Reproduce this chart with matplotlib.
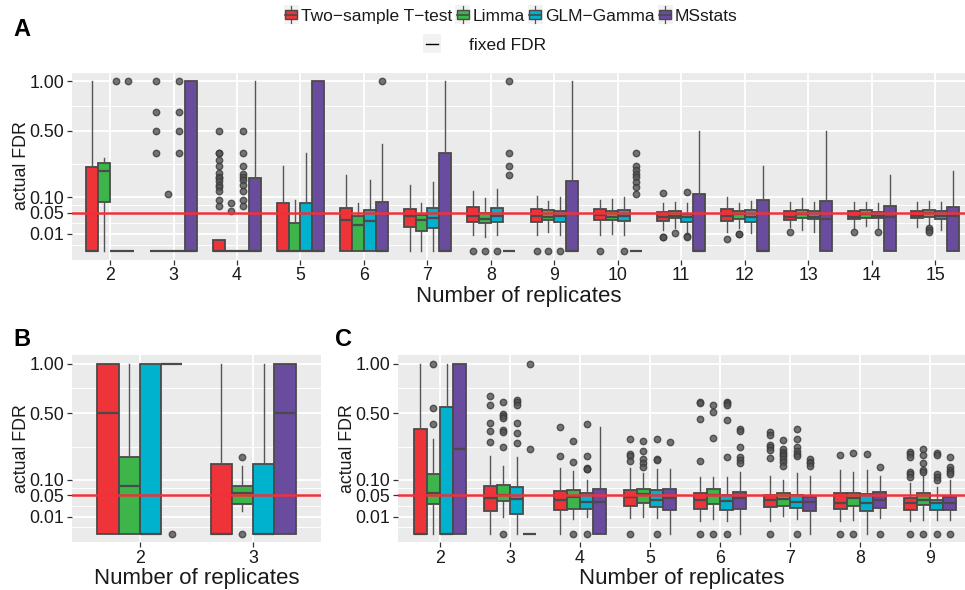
import numpy as np
import matplotlib
matplotlib.use("Agg")
import matplotlib.pyplot as plt
from matplotlib.patches import Patch, Rectangle
from matplotlib.lines import Line2D
from matplotlib.legend_handler import HandlerBase

plt.rcParams['font.family'] = ['Liberation Sans', 'DejaVu Sans']

METHODS = ["Two\u2212sample T\u2212test", "Limma", "GLM\u2212Gamma", "MSstats"]
COLORS = ["#EE3339", "#3DB54A", "#00B2CD", "#6A4C9E"]
FIXED_FDR = 0.05
YTICKS = [0.01, 0.05, 0.10, 0.50, 1.00]
YTICKLABELS = ["0.01", "0.05", "0.10", "0.50", "1.00"]

# ---------------- Panel A: replicates 2..15 ----------------
A_groups = list(range(2, 16))
# (whisker low, Q1, median, Q3, whisker high)
A_red = [(0, 0, 0, 0.246, 1.0), (0, 0, 0, 0, 0), (0, 0, 0, 0.0045, 0.0045),
         (0, 0, 0, 0.081, 0.25), (0, 0, 0.034, 0.065, 0.198),
         (0, 0.0205, 0.0424, 0.060, 0.151), (0.0092, 0.0285, 0.0432, 0.066, 0.126),
         (0.0085, 0.0298, 0.0432, 0.062, 0.105), (0.0092, 0.0333, 0.044, 0.060, 0.089),
         (0.0153, 0.0318, 0.0392, 0.0517, 0.0786), (0.0129, 0.0318, 0.0432, 0.061, 0.101),
         (0.0205, 0.034, 0.0408, 0.0563, 0.082), (0.0188, 0.0362, 0.0408, 0.0544, 0.083),
         (0.0205, 0.0369, 0.0416, 0.0554, 0.082)]
A_green = [(0, 0.082, 0.223, 0.27, 0.30), (0, 0, 0, 0, 0), (0, 0, 0, 0, 0),
           (0, 0, 0, 0.0265, 0.09), (0, 0, 0.0234, 0.0432, 0.081),
           (0, 0.0143, 0.0333, 0.0457, 0.0786), (0.0071, 0.0278, 0.0354, 0.049, 0.096),
           (0.012, 0.0332, 0.0408, 0.057, 0.0865), (0.0104, 0.0333, 0.0408, 0.0554, 0.0936),
           (0.0178, 0.0369, 0.0432, 0.0563, 0.082), (0.0178, 0.0354, 0.0465, 0.0563, 0.0786),
           (0.0153, 0.0377, 0.0465, 0.058, 0.097), (0.0222, 0.0384, 0.0473, 0.059, 0.082),
           (0.0228, 0.040, 0.050, 0.057, 0.0877)]
A_teal = [(0, 0, 0, 0, 0), (0, 0, 0, 0, 0), (0, 0, 0, 0, 0),
          (0, 0, 0, 0.0786, 0.332), (0, 0, 0.031, 0.059, 0.173),
          (0, 0.0188, 0.0384, 0.063, 0.165), (0.0092, 0.0285, 0.0432, 0.064, 0.133),
          (0.0092, 0.0285, 0.043, 0.056, 0.102), (0.0092, 0.031, 0.042, 0.058, 0.0998),
          (0.0129, 0.0298, 0.041, 0.0465, 0.0786), (0.0108, 0.0291, 0.0408, 0.058, 0.0877),
          (0.0129, 0.0347, 0.0408, 0.0554, 0.083), (0.0188, 0.0384, 0.0432, 0.0535, 0.081),
          (0.0157, 0.0347, 0.0432, 0.0544, 0.082)]
A_purple = [(0, 0, 0, 0, 0), (0, 0, 0, 1.0, 1.0), (0, 0, 0, 0.186, 1.0),
            (0, 0, 0, 1.0, 1.0), (0, 0, 0, 0.083, 0.396),
            (0, 0, 0, 0.335, 1.0), (0, 0, 0, 0, 0),
            (0, 0, 0, 0.168, 1.0), (0, 0, 0, 0, 0),
            (0, 0, 0, 0.111, 0.498), (0, 0, 0, 0.0912, 0.248),
            (0, 0, 0.0354, 0.0853, 0.498), (0, 0, 0.0408, 0.0711, 0.198),
            (0, 0, 0.0416, 0.067, 0.221)]
A_red_out = [[], [1.0, 0.666, 0.498, 0.335],
             [0.498, 0.335, 0.33, 0.287, 0.248, 0.21, 0.19, 0.184, 0.17, 0.151, 0.14, 0.125, 0.09, 0.071],
             [], [], [], [0], [0], [0], [0.116, 0.0071, 0.0065], [0.0053], [0.0125], [0.0129], []]
A_green_out = [[], [0.111], [0.079, 0.056], [], [], [], [0], [0], [], [0.0116],
               [0.0100, 0.0095], [], [], [0.0178, 0.015, 0.0125]]
A_teal_out = [[1.0], [1.0, 0.666, 0.498, 0.335],
              [0.498, 0.335, 0.248, 0.203, 0.19, 0.175, 0.15, 0.125, 0.09, 0.071],
              [], [], [], [0], [0], [0], [0.12, 0.0078, 0.0065], [], [], [0.0129], []]
A_purple_out = [[1.0], [], [], [], [1.0], [], [1.0, 0.335, 0.25, 0.2], [],
                [0.335, 0.25, 0.227, 0.205, 0.188, 0.166, 0.143, 0.111], [], [], [], [], []]

# ---------------- Panel B: replicates 2..3 ----------------
B_groups = [2, 3]
B_red = [(0, 0, 0.5, 1.0, 1.0), (0, 0, 0, 0.165, 1.0)]
B_green = [(0, 0, 0.0786, 0.2, 1.0), (0.0183, 0.0311, 0.0554, 0.0797, 0.16)]
B_teal = [(0, 0, 0, 1.0, 1.0), (0, 0, 0, 0.165, 1.0)]
B_purple = [(1.0, 1.0, 1.0, 1.0, 1.0), (0, 0, 0.5, 1.0, 1.0)]
B_red_out = [[], []]
B_green_out = [[], [0.2, 0]]
B_teal_out = [[], []]
B_purple_out = [[0], []]

# ---------------- Panel C: replicates 2..9 ----------------
C_groups = list(range(2, 10))
C_red = [(0, 0, 0, 0.379, 1.0), (0, 0.0178, 0.044, 0.0775, 0.21),
         (0, 0.0199, 0.0384, 0.063, 0.148), (0.0085, 0.0259, 0.0457, 0.064, 0.148),
         (0.0056, 0.0205, 0.040, 0.0572, 0.112), (0.0058, 0.0234, 0.0377, 0.0526, 0.115),
         (0.0053, 0.0216, 0.0325, 0.0554, 0.139), (0.0053, 0.0199, 0.0325, 0.0424, 0.089)]
C_green = [(0, 0.0298, 0.057, 0.122, 0.306), (0.0096, 0.0362, 0.0508, 0.0808, 0.157),
           (0.0068, 0.021, 0.0465, 0.066, 0.136), (0.0096, 0.0332, 0.0535, 0.069, 0.126),
           (0.0074, 0.0311, 0.0509, 0.069, 0.112), (0.0104, 0.0259, 0.042, 0.0563, 0.098),
           (0.0062, 0.0265, 0.0424, 0.058, 0.132), (0.0062, 0.0278, 0.0384, 0.058, 0.116)]
C_teal = [(0, 0, 0, 0.552, 1.0), (0, 0.0134, 0.0416, 0.0764, 0.203),
          (0.0096, 0.0216, 0.0347, 0.0554, 0.098), (0.0085, 0.024, 0.0384, 0.064, 0.145),
          (0.0058, 0.0199, 0.0369, 0.0526, 0.111), (0.0068, 0.0228, 0.0347, 0.0526, 0.125),
          (0, 0.0183, 0.0332, 0.0544, 0.139), (0.0062, 0.0199, 0.0325, 0.040, 0.075)]
C_purple = [(0, 0, 0.248, 1.0, 1.0), (0, 0, 0, 0, 0),
            (0, 0, 0.0333, 0.070, 0.394), (0, 0.0188, 0.044, 0.070, 0.142),
            (0, 0.021, 0.0424, 0.059, 0.13), (0, 0.0173, 0.034, 0.0465, 0.116),
            (0.0078, 0.0228, 0.0377, 0.059, 0.116), (0.0062, 0.0199, 0.0332, 0.0457, 0.098)]
C_red_out = [[], [0.653, 0.573, 0.421, 0.362, 0.291], [0.396, 0.21],
             [0.306, 0.218, 0.207, 0.184, 0], [0.60, 0.59, 0.45, 0.184, 0],
             [0.358, 0.334, 0.27, 0.258, 0.244, 0.195, 0], [0.212, 0],
             [0.23, 0.216, 0.203, 0.132, 0.122, 0.111, 0]]
C_green_out = [[1.0, 0.549, 0.416], [0.594, 0.498, 0.48, 0.46, 0.37, 0.36, 0.26, 0],
               [0.295, 0.178, 0], [0.297, 0.233, 0.191, 0.17, 0.152], [0.57, 0.515, 0.314, 0],
               [0.30, 0.25, 0.23, 0.218, 0.207, 0.19, 0.178, 0.158], [0.223, 0],
               [0.246, 0.212, 0.17, 0.14, 0.132, 0]]
C_teal_out = [[], [0.615, 0.594, 0.57, 0.426, 0.348, 0.284], [0.414, 0.21, 0.15, 0.146, 0.142, 0],
              [0.306, 0.191, 0.186, 0], [0.597, 0.585, 0.573, 0.442, 0.2, 0],
              [0.381, 0.31, 0.258, 0.235, 0.221, 0.209, 0], [0.216],
              [0.227, 0.212, 0.122, 0.111, 0.098, 0]]
C_purple_out = [[], [1.0, 0.248], [], [0.291], [0.379, 0.365, 0.26, 0.2, 0.186, 0.173],
                [0.19, 0.178, 0.17, 0.158], [0.154, 0], [0.2, 0.154, 0.141, 0.132, 0.122, 0]]


# ---------------- drawing ----------------
W, H = 965, 590
fig = plt.figure(figsize=(W / 100, H / 100), dpi=100)


def add_axes_px(left, right, top, bottom):
    return fig.add_axes([left / W, 1 - bottom / H, (right - left) / W, (bottom - top) / H])


def fwd(x):
    x = np.asarray(x, dtype=float)
    return np.sign(x) * np.sqrt(np.abs(x))


def inv(y):
    y = np.asarray(y, dtype=float)
    return np.sign(y) * y ** 2


BOXW = 0.1875
TXT = '#1a1a1a'
EDGE = '#4a4a4a'


def draw_panel(ax, groups, boxes, outs, xmax):
    ax.set_facecolor('#EBEBEB')
    for m in range(4):
        stats = []
        for gi in range(len(groups)):
            lo, q1, med, q3, hi = boxes[m][gi]
            stats.append(dict(whislo=lo, q1=q1, med=med, q3=q3, whishi=hi,
                              fliers=np.array(outs[m][gi], dtype=float)))
        pos = np.arange(len(groups)) + (m - 1.5) * BOXW
        ax.bxp(stats, positions=pos, widths=BOXW, patch_artist=True, showcaps=False,
               manage_ticks=False,
               boxprops=dict(facecolor=COLORS[m], edgecolor=EDGE, linewidth=1.3),
               medianprops=dict(color=EDGE, linewidth=1.6),
               whiskerprops=dict(color='#555555', linewidth=1.0),
               flierprops=dict(marker='o', markerfacecolor='#555555',
                               markeredgecolor='#3a3a3a', markersize=4.6, alpha=0.8))
    ax.axhline(FIXED_FDR, color='#F0303A', linewidth=1.8, zorder=6)
    ax.set_yscale('function', functions=(fwd, inv))
    ax.set_ylim(-0.0025, 1.1025)
    ax.set_xlim(-0.6, xmax)
    ax.set_yticks(YTICKS)
    ax.set_yticklabels(YTICKLABELS)
    s = np.sqrt(YTICKS)
    minor = list((s[:-1] + s[1:]) / 2) + [s[0] - (s[1] - s[0]) / 2]
    ax.set_yticks([v ** 2 for v in minor], minor=True)
    ax.set_xticks(np.arange(len(groups)))
    ax.set_xticklabels([str(g) for g in groups])
    ax.grid(which='major', color='white', linewidth=1.3)
    ax.grid(which='minor', axis='y', color='white', linewidth=0.7)
    ax.set_axisbelow(True)
    for sp in ax.spines.values():
        sp.set_visible(False)
    ax.tick_params(which='major', length=3.5, width=0.9, color='#333333',
                   labelsize=12.8, labelcolor=TXT, pad=2)
    ax.tick_params(which='minor', length=0)
    ax.set_ylabel('actual FDR', fontsize=12.8, color=TXT, labelpad=0)
    ax.set_xlabel('Number of replicates', fontsize=16, color=TXT, labelpad=1)


axA = add_axes_px(72, 965, 72.5, 259.5)
draw_panel(axA, A_groups, [A_red, A_green, A_teal, A_purple],
           [A_red_out, A_green_out, A_teal_out, A_purple_out], 13.47)
axB = add_axes_px(72, 321, 355, 542)
draw_panel(axB, B_groups, [B_red, B_green, B_teal, B_purple],
           [B_red_out, B_green_out, B_teal_out, B_purple_out], 1.6)
axC = add_axes_px(398, 965, 355, 542)
draw_panel(axC, C_groups, [C_red, C_green, C_teal, C_purple],
           [C_red_out, C_green_out, C_teal_out, C_purple_out], 7.5)

fig.text(13 / W, 1 - 36 / H, 'A', fontsize=17, fontweight='bold', color='black', va='baseline')
fig.text(13 / W, 1 - 346 / H, 'B', fontsize=17, fontweight='bold', color='black', va='baseline')
fig.text(335 / W, 1 - 346 / H, 'C', fontsize=17, fontweight='bold', color='black', va='baseline')


class BoxKeyHandler(HandlerBase):
    """ggplot-style boxplot legend key: box, median line, whisker stubs."""
    def create_artists(self, legend, orig_handle, xdescent, ydescent, width, height,
                       fontsize, trans):
        x0, y0 = -xdescent, -ydescent
        bg = Rectangle((x0 - 1, y0 - 2.5), width + 2, height + 5, facecolor='#F2F2F2',
                       edgecolor='none', transform=trans)
        cx = x0 + width / 2
        wh = Line2D([cx, cx], [y0 - 2, y0 + height + 2], color='#555555', linewidth=0.9,
                    transform=trans)
        box = Rectangle((x0, y0 + height * 0.15), width, height * 0.7,
                        facecolor=orig_handle.get_facecolor(), edgecolor=EDGE,
                        linewidth=1.0, transform=trans)
        med = Line2D([x0, x0 + width], [y0 + height / 2] * 2, color=EDGE, linewidth=1.2,
                     transform=trans)
        return [bg, wh, box, med]


class LineKeyHandler(HandlerBase):
    def create_artists(self, legend, orig_handle, xdescent, ydescent, width, height,
                       fontsize, trans):
        x0, y0 = -xdescent, -ydescent
        bg = Rectangle((x0 - 2, y0 - 2.5), width + 4, height + 5, facecolor='#F2F2F2',
                       edgecolor='none', transform=trans)
        ln = Line2D([x0, x0 + width], [y0 + height / 2] * 2, color='black', linewidth=1.0,
                    transform=trans)
        return [bg, ln]


handles = [Patch(facecolor=c) for c in COLORS]
leg1 = fig.legend(handles, METHODS, loc='center left', bbox_to_anchor=(285 / W, 1 - 16 / H),
                  ncol=4, frameon=False, fontsize=12.5, handlelength=0.7, handleheight=0.7,
                  handletextpad=0.22, columnspacing=0.25, borderpad=0, borderaxespad=0,
                  handler_map={Patch: BoxKeyHandler()})
for t in leg1.get_texts():
    t.set_color(TXT)
leg2 = fig.legend([Line2D([], [], color='black')], ['fixed FDR'],
                  loc='center left', bbox_to_anchor=(426 / W, 1 - 45 / H),
                  frameon=False, fontsize=12.5, handlelength=0.7, handleheight=0.7,
                  handletextpad=1.75, borderpad=0, borderaxespad=0,
                  handler_map={Line2D: LineKeyHandler()})
for t in leg2.get_texts():
    t.set_color(TXT)

fig.savefig('out.png', dpi=100)
